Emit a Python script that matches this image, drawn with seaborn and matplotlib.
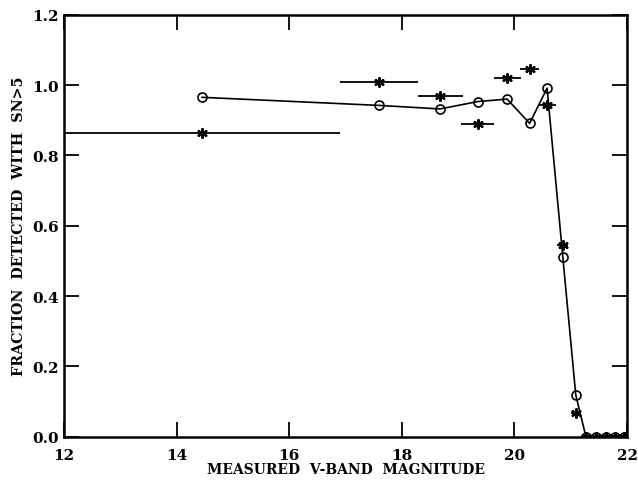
import matplotlib
matplotlib.use("Agg")
import matplotlib.pyplot as plt
import seaborn as sns
import pandas as pd

# Bin centres in measured V magnitude and half-widths of each bin
mag = [14.45, 17.60, 18.68, 19.35, 19.87, 20.27, 20.58, 20.86, 21.09,
       21.27, 21.45, 21.63, 21.79, 21.94]
half_width = [2.46, 0.69, 0.40, 0.29, 0.24, 0.17, 0.16, 0.10, 0.09,
              0.08, 0.08, 0.08, 0.07, 0.07]

# Fraction detected with S/N > 5: connected series (circles) and binned series (stars)
frac_line = [0.965, 0.942, 0.932, 0.953, 0.960, 0.891, 0.991, 0.510, 0.118,
             0.0, 0.0, 0.0, 0.0, 0.0]
frac_bin = [0.864, 1.009, 0.968, 0.890, 1.020, 1.046, 0.942, 0.546, 0.066,
            0.0, 0.0, 0.0, 0.0, 0.0]

xticks = [12, 14, 16, 18, 20, 22]
yticks = [0.0, 0.2, 0.4, 0.6, 0.8, 1.0, 1.2]
ytick_labels = ["0.0", "0.2", "0.4", "0.6", "0.8", "1.0", "1.2"]

df = pd.DataFrame({"mag": mag, "hw": half_width,
                   "frac_line": frac_line, "frac_bin": frac_bin})

sns.set_theme(style="ticks")
plt.rcParams["font.family"] = ["DejaVu Serif"]
plt.rcParams["text.color"] = "black"
plt.rcParams["axes.labelcolor"] = "black"
plt.rcParams["xtick.color"] = "black"
plt.rcParams["ytick.color"] = "black"

fig = plt.figure(figsize=(6.38, 4.81), dpi=100)
ax = fig.add_axes([0.1003, 0.09, 0.8825, 0.8774])

sns.lineplot(data=df, x="mag", y="frac_line", ax=ax, color="black",
             linewidth=1.2, marker="o", markersize=6.5, markerfacecolor="none",
             markeredgecolor="black", markeredgewidth=1.2, sort=False)

ax.errorbar(df["mag"], df["frac_bin"], xerr=df["hw"], fmt="none",
            ecolor="black", elinewidth=1.3, capsize=0)
sns.scatterplot(data=df, x="mag", y="frac_bin", ax=ax, marker=(6, 2, 0),
                s=40, color="black", linewidth=1.6, edgecolor="black")

ax.set_xlim(12, 22)
ax.set_ylim(0, 1.2)
ax.set_xticks(xticks)
ax.set_yticks(yticks)
ax.set_yticklabels(ytick_labels)

ax.tick_params(direction="in", length=11, width=1.3, top=True, right=True,
               labelsize=11, colors="black")
ax.tick_params(axis="x", pad=8)
ax.tick_params(axis="y", pad=4)
for lbl in ax.get_xticklabels() + ax.get_yticklabels():
    lbl.set_fontweight("bold")
for sp in ax.spines.values():
    sp.set_linewidth(1.8)
    sp.set_color("black")

ax.set_xlabel("MEASURED  V-BAND  MAGNITUDE", fontsize=10, fontweight="bold",
              labelpad=0)
ax.set_ylabel("FRACTION  DETECTED  WITH  SN>5", fontsize=10.3, fontweight="bold",
              labelpad=4)

fig.savefig("out.png", dpi=100)
